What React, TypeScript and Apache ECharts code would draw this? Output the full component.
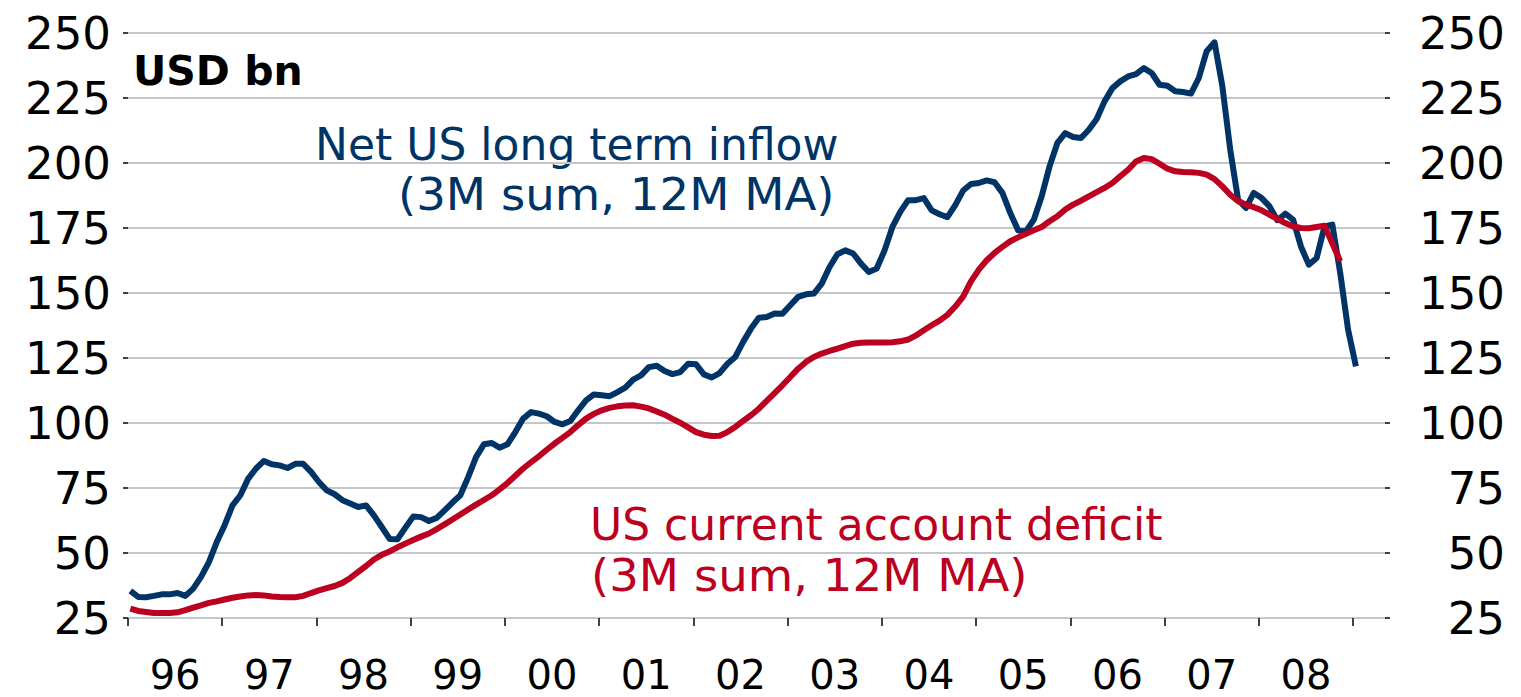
import { useEffect, useRef } from "react";
import * as echarts from "echarts";

// Net US long term inflow (3M sum, 12M MA), USD bn, monthly Jan 1996 .. Jan 2009
const BLUE_INFLOW: number[] = [
  35.4, 33.1, 33.0, 33.5, 34.1, 34.1, 34.6, 33.5, 36.3, 40.8, 46.5, 54.2,
  60.7, 68.3, 72.2, 78.6, 82.5, 85.4, 84.1, 83.7, 82.7, 84.3, 84.3, 81.2,
  77.3, 74.1, 72.6, 70.3, 69.0, 67.7, 68.3, 64.5, 60.0, 55.4, 55.3, 59.7,
  64.0, 63.8, 62.3, 63.5, 66.4, 69.4, 72.2, 79.2, 86.9, 91.8, 92.3, 90.5,
  91.8, 96.5, 101.7, 104.2, 103.6, 102.6, 100.4, 99.5, 100.8, 104.9, 108.7, 111.0,
  110.7, 110.3, 111.9, 113.6, 116.7, 118.3, 121.5, 122.0, 120.0, 118.8, 119.6, 122.8,
  122.6, 118.7, 117.5, 119.2, 122.8, 125.4, 131.2, 136.3, 140.5, 140.8, 142.1, 142.0,
  145.3, 148.5, 149.5, 149.8, 153.6, 160.0, 164.9, 166.4, 165.2, 161.3, 158.1, 159.4,
  166.4, 175.4, 181.2, 185.7, 185.7, 186.5, 181.8, 180.3, 179.2, 183.8, 189.4, 191.9,
  192.3, 193.3, 192.6, 188.5, 180.8, 174.1, 173.7, 178.2, 187.2, 198.7, 207.7, 211.5,
  210.0, 209.6, 212.8, 216.9, 223.7, 228.8, 231.4, 233.3, 234.2, 236.5, 234.6, 230.1,
  229.7, 227.6, 227.3, 226.7, 232.7, 243.0, 246.4, 229.5, 205.1, 185.9, 182.7, 188.5,
  186.5, 183.3, 178.0, 180.5, 178.2, 167.9, 160.9, 163.5, 175.6, 176.3, 157.7, 135.9,
  121.8,
];

// US current account deficit (3M sum, 12M MA), USD bn, monthly Jan 1996 .. Nov 2008
const RED_DEFICIT: number[] = [
  28.6, 27.7, 27.3, 26.9, 26.9, 26.9, 27.2, 28.0, 29.0, 29.9, 30.8, 31.4,
  32.1, 32.8, 33.3, 33.7, 33.8, 33.7, 33.3, 33.1, 33.0, 33.0, 33.5, 34.6,
  35.6, 36.5, 37.3, 38.5, 40.4, 42.7, 45.0, 47.5, 49.3, 50.6, 52.2, 53.6,
  55.0, 56.3, 57.5, 59.2, 61.0, 62.9, 64.8, 66.7, 68.6, 70.4, 72.2, 74.5,
  76.9, 79.7, 82.5, 84.9, 87.2, 89.7, 92.1, 94.3, 96.5, 99.2, 101.7, 103.5,
  104.9, 105.8, 106.4, 106.7, 106.8, 106.3, 105.6, 104.4, 103.2, 101.6, 100.1, 98.3,
  96.5, 95.5, 95.0, 95.1, 96.5, 98.5, 100.8, 103.0, 105.5, 108.5, 111.5, 114.5,
  117.7, 120.9, 123.5, 125.4, 126.7, 127.7, 128.6, 129.6, 130.5, 130.9, 131.0, 131.0,
  131.0, 131.1, 131.4, 132.1, 133.7, 135.7, 137.6, 139.4, 141.6, 144.8, 148.6, 154.5,
  159.0, 162.6, 165.4, 167.7, 169.9, 171.4, 172.8, 174.1, 175.4, 177.6, 179.5, 182.1,
  184.0, 185.5, 187.2, 188.8, 190.4, 192.3, 194.9, 197.4, 200.6, 201.9, 201.5, 199.7,
  197.8, 196.8, 196.5, 196.4, 196.2, 195.5, 193.8, 191.0, 187.8, 185.3, 184.0, 183.0,
  181.8, 180.1, 178.5, 176.9, 175.6, 175.0, 174.9, 175.4, 175.9, 169.0, 162.2,
];

const YEAR_LABELS: string[] = ["96", "97", "98", "99", "00", "01", "02", "03", "04", "05", "06", "07", "08"];

const Y_MIN = 25;
const Y_MAX = 250;
const Y_STEP = 25;

const BLUE = "#003366";
const RED = "#bb0020";
const FONT = '"DejaVu Sans", sans-serif';

export default function App() {
  const ref = useRef<HTMLDivElement>(null);

  useEffect(() => {
    if (!ref.current) return;
    const chart = echarts.init(ref.current, null, { renderer: "svg" });
    const monthsPerYear = 12;
    const totalMonths = YEAR_LABELS.length * monthsPerYear;
    const offset = 0.3;
    const blueData = BLUE_INFLOW.map((v, i) => [i + offset, v]);
    const redData = RED_DEFICIT.map((v, i) => [i + offset, v]);

    const yTick = { show: true, length: 5, lineStyle: { color: "#000", width: 1.5 } };
    const yLabel = { fontSize: 45, color: "#000", fontFamily: FONT, padding: [0, 0, 6, 0] };

    chart.setOption({
      animation: false,
      backgroundColor: "#ffffff",
      grid: [
        { left: 128, right: 136, top: 33, bottom: 79 },
        { left: 128, right: 168, top: 33, bottom: 79 },
      ],
      xAxis: [
        { type: "value", gridIndex: 0, min: 0, max: 160, show: false },
        {
          type: "value",
          gridIndex: 1,
          min: 0,
          max: totalMonths,
          interval: monthsPerYear,
          position: "bottom",
          offset: 11,
          axisLine: { show: false },
          axisTick: { show: true, length: 8, lineStyle: { color: "#000", width: 1.5 } },
          axisLabel: { show: false },
          splitLine: { show: false },
        },
        {
          type: "value",
          gridIndex: 1,
          min: 0,
          max: totalMonths,
          interval: monthsPerYear / 2,
          position: "bottom",
          offset: 11,
          axisLine: { show: false },
          axisTick: { show: false },
          splitLine: { show: false },
          axisLabel: {
            margin: 26,
            fontSize: 40,
            lineHeight: 40,
            color: "#000",
            fontFamily: FONT,
            formatter: (v: number) => {
              const k = Math.round(v);
              if (k % monthsPerYear !== monthsPerYear / 2) return "";
              return YEAR_LABELS[(k - monthsPerYear / 2) / monthsPerYear] ?? "";
            },
          },
        },
      ],
      yAxis: [
        {
          type: "value",
          gridIndex: 0,
          min: Y_MIN,
          max: Y_MAX,
          interval: Y_STEP,
          position: "left",
          axisLine: { show: false },
          axisTick: yTick,
          axisLabel: { ...yLabel, margin: 17 },
          splitLine: { show: true, lineStyle: { color: "#c3c7cb", width: 2 } },
        },
        {
          type: "value",
          gridIndex: 0,
          min: Y_MIN,
          max: Y_MAX,
          interval: Y_STEP,
          position: "right",
          axisLine: { show: false },
          axisTick: yTick,
          axisLabel: { ...yLabel, margin: 120, align: "right" },
          splitLine: { show: false },
        },
        { type: "value", gridIndex: 1, min: 0, max: 1, show: false },
      ],
      series: [
        {
          name: "Net US long term inflow",
          type: "line",
          xAxisIndex: 0,
          yAxisIndex: 0,
          data: blueData,
          showSymbol: false,
          symbol: "none",
          lineStyle: { color: BLUE, width: 6, join: "round" },
          z: 2,
        },
        {
          name: "US current account deficit",
          type: "line",
          xAxisIndex: 0,
          yAxisIndex: 0,
          data: redData,
          showSymbol: false,
          symbol: "none",
          lineStyle: { color: RED, width: 6, join: "round" },
          z: 3,
        },
      ],
      graphic: [
        {
          type: "text",
          x: 133,
          y: 71,
          style: { text: "USD bn", fill: "#000", font: `bold 41px ${FONT}`, align: "left", verticalAlign: "middle" },
        },
        {
          type: "text",
          x: 315,
          y: 144,
          style: { text: "Net US long term inflow", fill: BLUE, font: `44px ${FONT}`, align: "left", verticalAlign: "middle" },
        },
        {
          type: "text",
          x: 398,
          y: 195,
          scaleX: 1.06,
          style: { text: "(3M sum, 12M MA)", fill: BLUE, font: `44px ${FONT}`, align: "left", verticalAlign: "middle" },
        },
        {
          type: "text",
          x: 590,
          y: 524,
          style: { text: "US current account deficit", fill: RED, font: `44px ${FONT}`, align: "left", verticalAlign: "middle" },
        },
        {
          type: "text",
          x: 591,
          y: 576,
          scaleX: 1.06,
          style: { text: "(3M sum, 12M MA)", fill: RED, font: `44px ${FONT}`, align: "left", verticalAlign: "middle" },
        },
      ],
    });
    return () => chart.dispose();
  }, []);

  return (
    <div
      ref={ref}
      style={{ position: "fixed", left: 0, top: 0, width: 1521, height: 697, background: "#fff" }}
    />
  );
}
